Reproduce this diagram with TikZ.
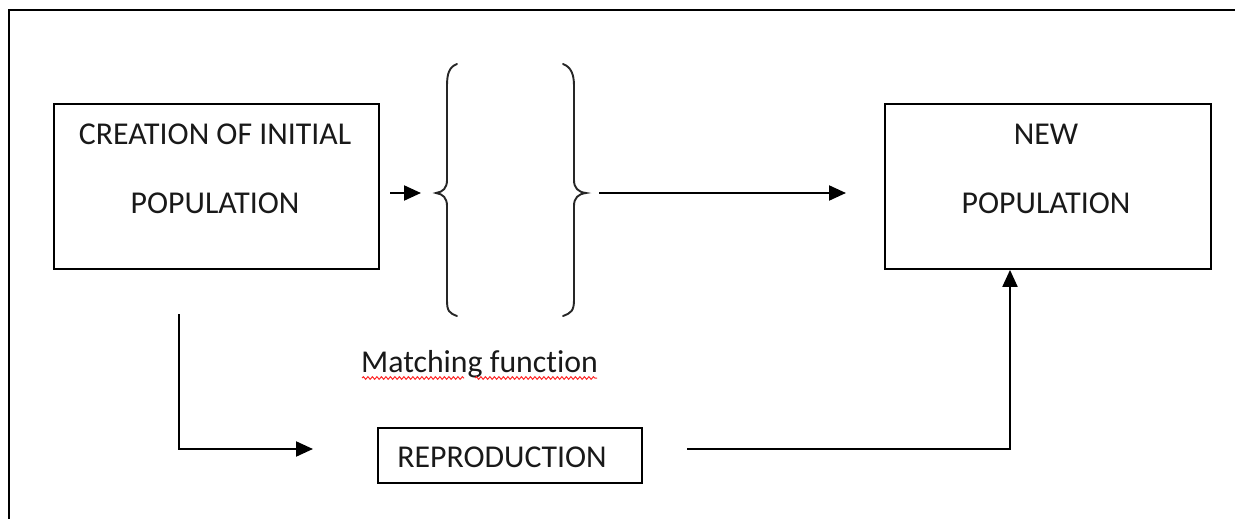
\documentclass[tikz,border=0pt]{standalone}
\usepackage{fontspec}
\setmainfont[Ligatures={NoCommon}]{Carlito}
\usetikzlibrary{arrows.meta,decorations.pathmorphing}
\begin{document}
\begin{tikzpicture}[x=1pt,y=-1pt,
  box/.style={draw=black, line width=1.9pt, rectangle, inner sep=0pt, anchor=north west},
  txt/.style={anchor=base, inner sep=0pt, text=black!90, font=\fontsize{31.8}{38}\selectfont},
  conn/.style={draw=black, line width=2.1pt},
  arr/.style={conn, -{Triangle[length=17pt,width=15pt]}},
  brace/.style={draw=black!85, line width=1.9pt, line cap=round},
  squiggle/.style={draw=red!85, line width=1pt, decorate, decoration={snake, amplitude=1.3pt, segment length=4.5pt}}]
\useasboundingbox (0,0) rectangle (1235,519);
% outer frame
\draw[line width=2.6pt] (9,519) -- (9,10) -- (1235,10);
% boxes
\node[box, minimum width=325pt, minimum height=165pt] (init) at (53,103) {};
\node[box, minimum width=326pt, minimum height=165pt] (newpop) at (884,103) {};
\node[box, minimum width=264pt, minimum height=55pt] (repro) at (377,427) {};
% texts
\node[txt] (t1) at (215,144) {CREATION OF INITIAL};
\node[txt] (t2) at (215,213) {POPULATION};
\node[txt] (t3) at (1046,144) {NEW};
\node[txt] (t4) at (1046,213) {POPULATION};
\node[txt] (t5) at (502,467) {REPRODUCTION};
\node[txt] (mf) at (479.5,372) {Matching function};
% spellcheck underline
\path[squiggle] (362,378) -- (464,378);
\path[squiggle] (475,378) -- (597,378);
% braces
\coordinate (lb) at (436,193);
\coordinate (rb) at (586,193);
\draw[brace] (457,64) .. controls (449,67) and (447,74) .. (447,86)
  -- (447,180) .. controls (447,188) and (443,192) .. (lb)
  .. controls (443,194) and (447,198) .. (447,206)
  -- (447,300) .. controls (447,311) and (449,313) .. (457,316);
\draw[brace] (563,64) .. controls (571,67) and (574,74) .. (574,86)
  -- (574,180) .. controls (574,188) and (578,192) .. (rb)
  .. controls (578,194) and (574,198) .. (574,206)
  -- (574,300) .. controls (574,311) and (571,313) .. (563,316);
% connectors
\coordinate (a1s) at (390,193);
\coordinate (a1e) at (421,193);
\draw[arr] (a1s) -- (a1e);
\coordinate (a2s) at (599,193);
\coordinate (a2e) at (846,193);
\draw[arr] (a2s) -- (a2e);
\coordinate (lstart) at (179,314);
\coordinate (lend) at (313,449);
\draw[arr] (lstart) |- (lend);
\coordinate (rstart) at (687,449);
\draw[arr] (rstart) -| (newpop.south -| 1010,0);
\end{tikzpicture}
\end{document}
